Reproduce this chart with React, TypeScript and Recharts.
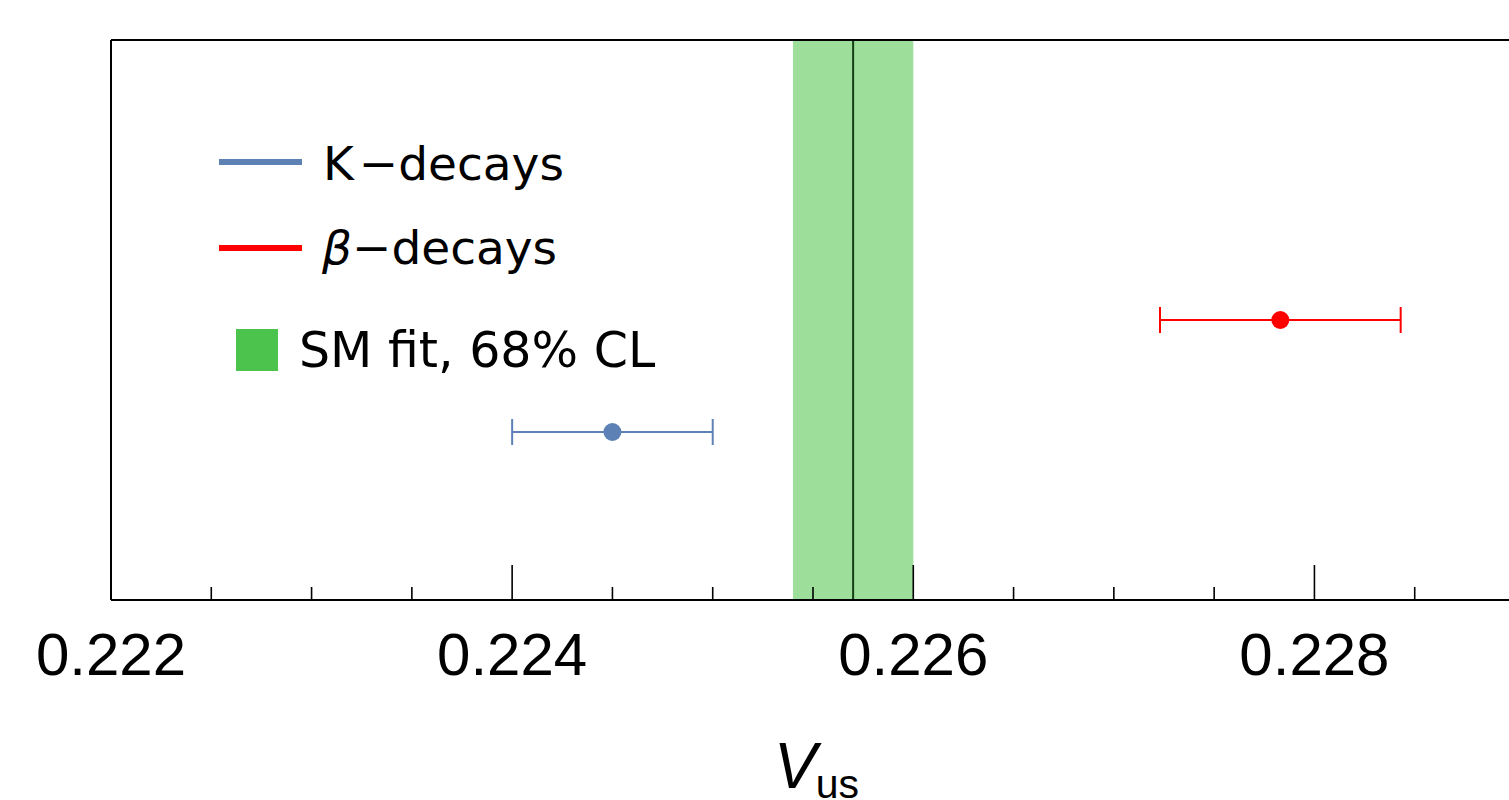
import React from "react";
import {
  ComposedChart,
  Scatter,
  ErrorBar,
  XAxis,
  YAxis,
  ReferenceArea,
  ReferenceLine,
  Legend,
} from "recharts";

const kDecays = [{ vus: 0.2245, pos: 0.3, err: 0.0005 }];
const betaDecays = [{ vus: 0.22783, pos: 0.5, err: 0.0006 }];
const smFitBand = [0.2254, 0.226];
const smFitCentral = 0.2257;

const xDomain = [0.222, 0.229];
const xTicks = [
  0.222, 0.2225, 0.223, 0.2235, 0.224, 0.2245, 0.225, 0.2255, 0.226, 0.2265,
  0.227, 0.2275, 0.228, 0.2285, 0.229,
];

const BLUE = "#5E81B5";
const RED = "#FF0000";
const GREEN = "#4CC34C";
const BAND = "#9CDE9A";

const isMajor = (v: number) => Math.round(v * 10000) % 20 === 0;

function VusTick(props: any) {
  const { x, y, payload } = props;
  const major = isMajor(payload.value);
  return (
    <g>
      <line
        x1={x}
        x2={x}
        y1={y}
        y2={y - (major ? 35 : 13)}
        stroke="#000"
        strokeWidth={1.6}
      />
      {major && (
        <text
          x={x}
          y={y + 75}
          textAnchor="middle"
          fontSize={60}
          fontFamily="Liberation Sans, Arial, sans-serif"
          fill="#000"
        >
          {payload.value.toFixed(3)}
        </text>
      )}
    </g>
  );
}

function AxisTitle(props: any) {
  const { viewBox } = props;
  const cx = viewBox.x + viewBox.width / 2;
  return (
    <text
      x={cx - 39}
      y={788}
      fontFamily="Liberation Sans, Arial, sans-serif"
      fill="#000"
    >
      <tspan fontSize={64} fontStyle="italic">V</tspan>
      <tspan fontSize={41} dx={-1} dy={10}>us</tspan>
    </text>
  );
}

function FitLegend() {
  const font = "DejaVu Sans, sans-serif";
  return (
    <svg width={700} height={400} style={{ display: "block" }}>
      <line x1={219} x2={302} y1={162} y2={162} stroke={BLUE} strokeWidth={6} />
      <text x={323} y={180} fontSize={47} fontFamily={font} fill="#000">
        K<tspan dx={5}>−decays</tspan>
      </text>
      <line x1={219} x2={302} y1={248} y2={248} stroke={RED} strokeWidth={6} />
      <text x={322} y={264} fontSize={47} fontFamily={font} fill="#000">
        <tspan fontStyle="italic">β</tspan>−decays
      </text>
      <rect x={236} y={329} width={42} height={42} fill={GREEN} />
      <text x={299} y={367} fontSize={49} fontFamily={font} fill="#000">
        SM fit, 68% CL
      </text>
    </svg>
  );
}

const dot = (color: string) => (p: any) =>
  <circle cx={p.cx} cy={p.cy} r={9} fill={color} />;

export default function App() {
  return (
    <div
      style={{
        position: "absolute",
        left: 0,
        top: 0,
        width: 1509,
        height: 800,
        overflow: "hidden",
        background: "#fff",
      }}
    >
      <ComposedChart
        width={1515}
        height={800}
        margin={{ top: 40, right: 0, bottom: 0, left: 111 }}
      >
        <ReferenceArea
          x1={smFitBand[0]}
          x2={smFitBand[1]}
          y1={0}
          y2={1}
          fill={BAND}
          fillOpacity={1}
          stroke="none"
        />
        <ReferenceLine x={smFitCentral} stroke="#173F17" strokeWidth={2} />
        <XAxis
          type="number"
          dataKey="vus"
          domain={xDomain}
          ticks={xTicks}
          interval={0}
          height={200}
          tickSize={0}
          tickMargin={0}
          tickLine={false}
          tick={<VusTick />}
          axisLine={{ stroke: "#000", strokeWidth: 2 }}
          label={<AxisTitle />}
        />
        <YAxis
          type="number"
          dataKey="pos"
          domain={[0, 1]}
          width={0}
          tick={false}
          tickLine={false}
          axisLine={false}
        />
        <ReferenceLine y={1} stroke="#000" strokeWidth={2} />
        <ReferenceLine x={xDomain[0]} stroke="#000" strokeWidth={2} />
        <Scatter
          name="K-decays"
          data={kDecays}
          fill={BLUE}
          shape={dot(BLUE)}
          isAnimationActive={false}
        >
          <ErrorBar
            dataKey="err"
            direction="x"
            width={13}
            stroke={BLUE}
            strokeWidth={2}
          />
        </Scatter>
        <Scatter
          name="beta-decays"
          data={betaDecays}
          fill={RED}
          shape={dot(RED)}
          isAnimationActive={false}
        >
          <ErrorBar
            dataKey="err"
            direction="x"
            width={13}
            stroke={RED}
            strokeWidth={2}
          />
        </Scatter>
        <Legend
          layout="vertical"
          align="center"
          verticalAlign="middle"
          wrapperStyle={{ left: 0, top: 0, width: 700, height: 400 }}
          content={() => <FitLegend />}
        />
      </ComposedChart>
    </div>
  );
}
